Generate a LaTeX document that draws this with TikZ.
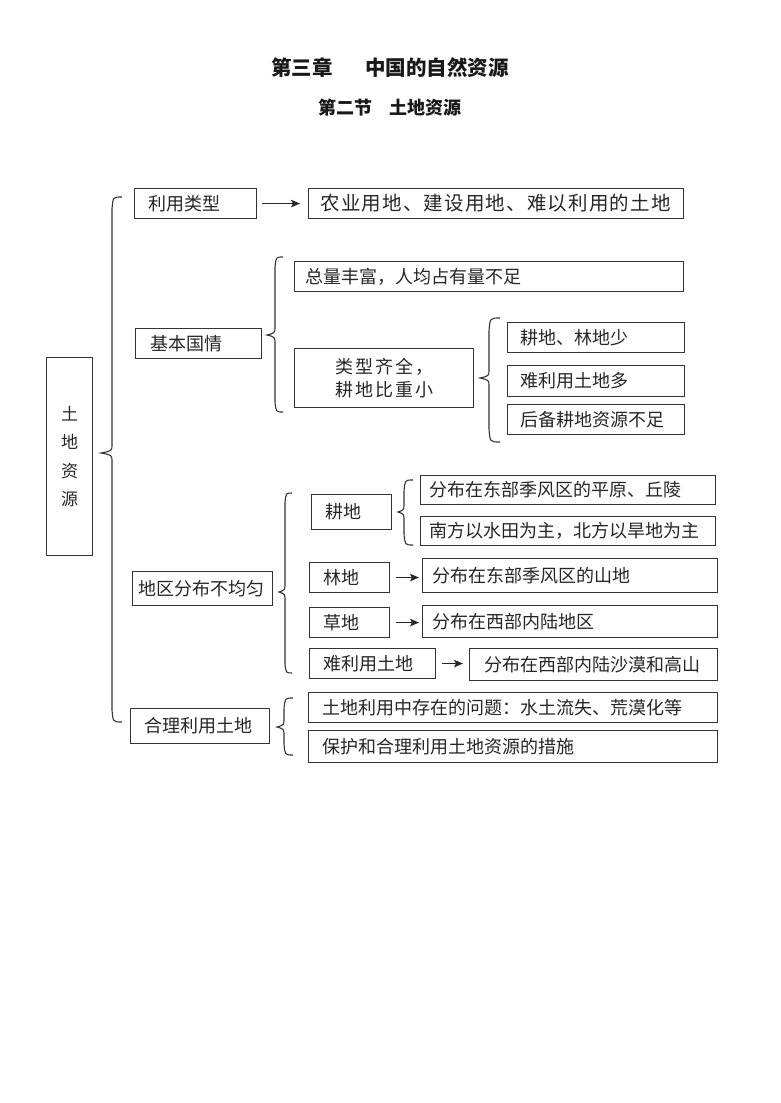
\documentclass[tikz,border=0pt]{standalone}
\usepackage{fontspec}
\setmainfont{Noto Sans CJK SC}
\newfontfamily\cjkwide[LetterSpace=6]{Noto Sans CJK SC}
\newfontfamily\cjkmid[LetterSpace=11]{Noto Sans CJK SC}
\usetikzlibrary{arrows.meta}
\tikzset{
  box/.style={draw=black!80, line width=1.1pt, text=black!85, inner ysep=0pt,
    font=\fontsize{18}{22}\selectfont, align=left},
  brc/.style={draw=black!80, line width=1.1pt},
  arr/.style={draw=black!85, line width=1.2pt, -{Stealth[length=9pt,width=7.5pt,inset=2pt]}},
  ttl/.style={text=black!90, font=\bfseries\fontsize{20.5}{24}\selectfont},
}
% box: [opts]{name}{x1}{y1}{x2}{y2}{pad}{text}
\newcommand\bx[8][]{%
  \pgfmathsetmacro\bw{#5-#3}%
  \pgfmathsetmacro\bh{#6-#4}%
  \pgfmathsetmacro\tw{#5-#3-2*#7}%
  \node[box, anchor=north west, minimum width=\bw pt, minimum height=\bh pt,
        inner xsep=#7pt, text width=\tw pt, #1] (#2) at (#3,#4) {#8};}
% brace: {x}{ytop}{ymid}{ybot}{depth}{hook}
\newcommand\brc[6]{%
  \draw[brc] (#1+#6,#2) .. controls (#1+1,#2) .. (#1,#2+#6+2)
    -- (#1,#3-9) .. controls (#1,#3-2) .. (#1-#5,#3)
    .. controls (#1,#3+2) .. (#1,#3+9)
    -- (#1,#4-#6-2) .. controls (#1+1,#4) .. (#1+#6,#4);}
\begin{document}
\begin{tikzpicture}[x=1pt,y=-1pt]
\fill[white] (0,0) rectangle (780,1103);
\useasboundingbox (0,0) rectangle (780,1103);
% titles
\node[ttl] (t1) at (390,68) {第三章\hspace{33pt}中国的自然资源};
\node[ttl, font=\bfseries\fontsize{18}{22}\selectfont] (t2) at (390,108) {第二节\hspace{17pt}土地资源};
% root
\node[box, anchor=north west, minimum width=46pt, minimum height=198pt, inner sep=0pt,
      align=center, font=\fontsize{17}{28.5}\selectfont] (land) at (46,357) {土\\地\\资\\源};
% level 1
\bx{ly}{134}{188}{256}{218}{14}{利用类型}
\bx[font=\cjkwide\fontsize{19.5}{24}\selectfont]{ny}{308}{188}{683}{218}{12}{农业用地、建设用地、难以利用的土地}
\bx{jb}{135}{328}{261}{358}{15}{基本国情}
\bx{zl}{294}{261}{683}{291}{11}{总量丰富，人均占有量不足}
\bx[align=center, font=\cjkmid\fontsize{18}{23}\selectfont]{lx}{294}{348}{473}{407}{8}{类型齐全，\\耕地比重小}
\bx{gd}{507}{322}{684}{352}{13}{耕地、林地少}
\bx{nl}{507}{365}{684}{396}{13}{难利用土地多}
\bx{hb}{507}{404}{684}{434}{13}{后备耕地资源不足}
\bx{dq}{132}{571}{272}{605}{6}{地区分布不均匀}
\bx{gdi}{311}{494}{391}{529}{14}{耕地}
\bx{ld}{309}{562}{389}{592}{14}{林地}
\bx{cd}{309}{607}{389}{637}{14}{草地}
\bx{nd}{309}{648}{435}{678}{14}{难利用土地}
\bx{pl}{420}{475}{715}{504}{9}{分布在东部季风区的平原、丘陵}
\bx{nf}{420}{516}{715}{545}{9}{南方以水田为主，北方以旱地为主}
\bx{sd}{422}{558}{717}{592}{10}{分布在东部季风区的山地}
\bx{xb}{422}{605}{717}{637}{10}{分布在西部内陆地区}
\bx{sm}{469}{648}{717}{680}{15}{分布在西部内陆沙漠和高山}
\bx{hl}{130}{708}{269}{743}{14}{合理利用土地}
\bx{wt}{308}{692}{717}{722}{14}{土地利用中存在的问题：水土流失、荒漠化等}
\bx{bh}{308}{730}{717}{762}{14}{保护和合理利用土地资源的措施}
% arrows
\draw[arr, shorten <=5pt, shorten >=8pt] (ly.east) -- (ly.east -| ny.west);
\draw[arr, shorten <=6pt, shorten >=3pt] (ld.east) -- (ld.east -| sd.west);
\draw[arr, shorten <=6pt, shorten >=3pt] (cd.east) -- (cd.east -| xb.west);
\draw[arr, shorten <=6pt, shorten >=6pt] (nd.east) -- (nd.east -| sm.west);
% braces
\brc{112}{197}{453}{722}{11}{10}
\brc{275}{257}{335}{412}{8}{8}
\brc{489}{318}{378}{442}{9}{11}
\brc{285}{493}{592}{673}{6}{7}
\brc{284}{698}{727}{755}{7}{9}
\brc{404}{480}{512}{545}{6}{9}
\end{tikzpicture}
\end{document}
